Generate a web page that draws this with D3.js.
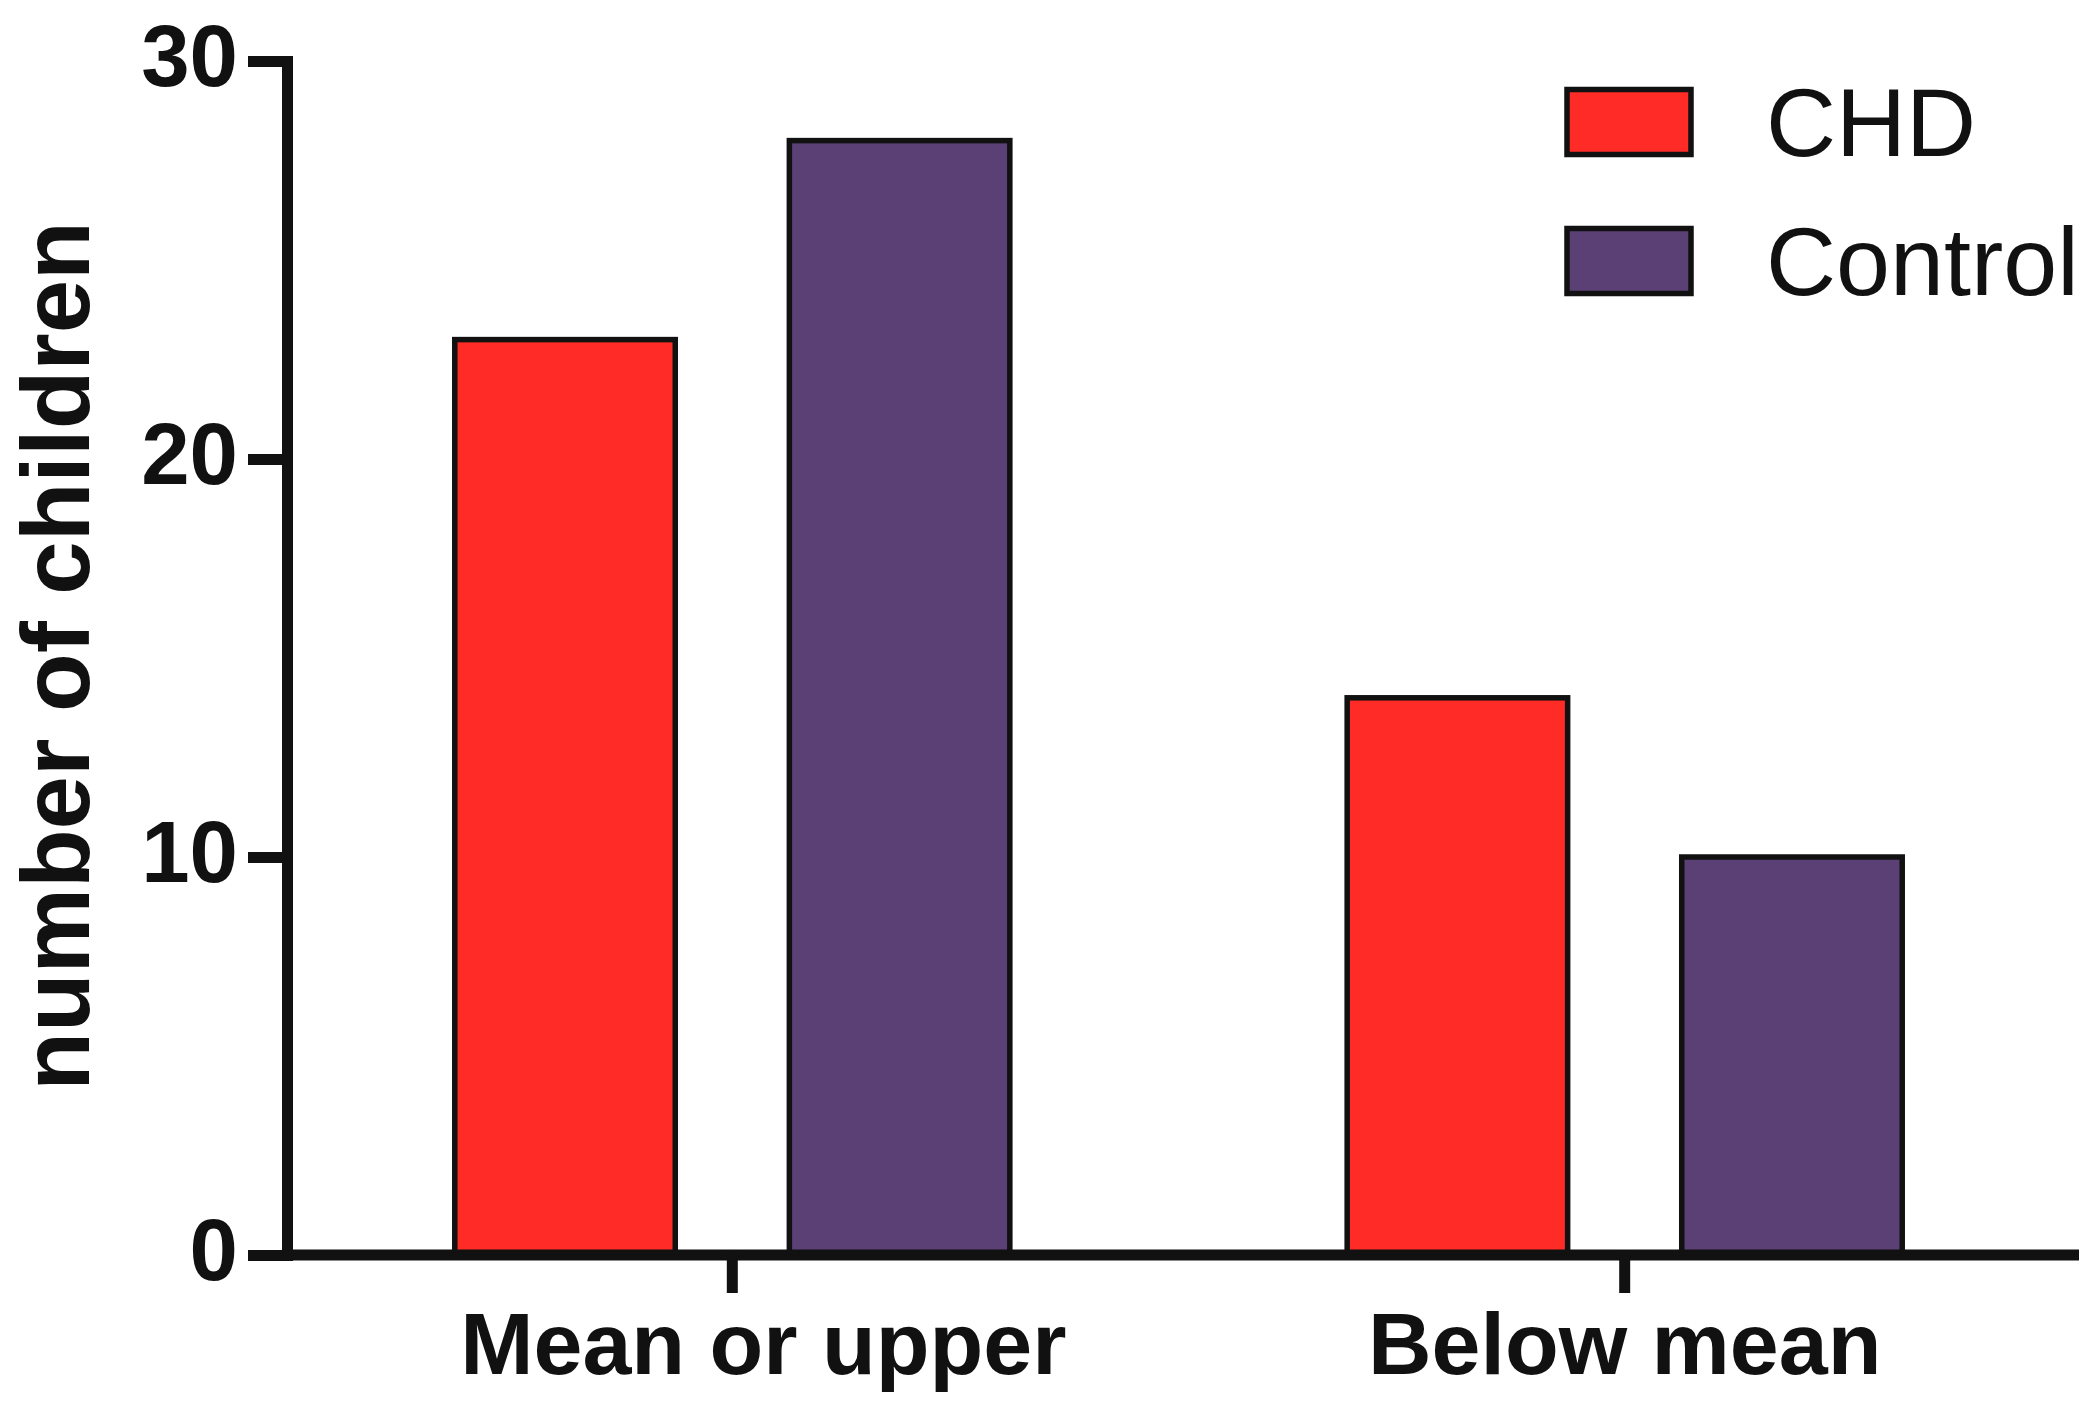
<!DOCTYPE html>
<html>
<head>
<meta charset="utf-8">
<script src="https://cdn.jsdelivr.net/npm/d3@7/dist/d3.min.js"></script>
<style>
  html, body { margin: 0; padding: 0; background: #ffffff; }
  svg { display: block; }
</style>
</head>
<body>
<svg id="chart" width="2092" height="1408"></svg>
<script>
// ---- data ----
const categories = ["Mean or upper", "Below mean"];
const seriesNames = ["CHD", "Control"];
const chdValues = [23, 14];
const controlValues = [28, 10];
const yTicks = [0, 10, 20, 30];
const yTitle = "number of children";
const seriesColors = ["#FF2B27", "#5B4076"];

// ---- layout ----
const W = 2092, H = 1408;
const svg = d3.select("#chart");
svg.append("rect").attr("width", W).attr("height", H).attr("fill", "#ffffff");

const axisX = 287;       // y-axis position
const baseY = 1255;      // y of value 0
const topY = 61;         // y of value 30
const ink = "#111111";
const axisW = 11;
const barStroke = 5.5;
const FONT = "'Liberation Sans', Arial, Helvetica, sans-serif";

const y = d3.scaleLinear().domain([0, 30]).range([baseY, topY]);

const x0 = d3.scaleBand().domain(categories)
  .range([287, 2070]).paddingInner(0.378).paddingOuter(0.188);
const x1 = d3.scaleBand().domain(seriesNames)
  .range([0, x0.bandwidth()]).paddingInner(0.341).paddingOuter(0);

const rows = categories.map((c, i) => ({
  cat: c,
  vals: [
    { s: seriesNames[0], v: chdValues[i], color: seriesColors[0] },
    { s: seriesNames[1], v: controlValues[i], color: seriesColors[1] }
  ]
}));

// ---- bars ----
const g = svg.append("g");
g.selectAll("g.grp").data(rows).join("g")
  .attr("class", "grp")
  .attr("transform", d => `translate(${x0(d.cat)},0)`)
  .selectAll("rect").data(d => d.vals).join("rect")
  .attr("x", d => x1(d.s))
  .attr("width", x1.bandwidth())
  .attr("y", d => y(d.v))
  .attr("height", d => y(0) - y(d.v))
  .attr("fill", d => d.color)
  .attr("stroke", ink)
  .attr("stroke-width", barStroke);

// ---- y axis ----
const yAxis = d3.axisLeft(y).tickValues(yTicks).tickFormat(d3.format("d"))
  .tickSize(39).tickSizeOuter(0).tickPadding(10);
const yg = svg.append("g").attr("transform", `translate(${axisX},0)`).call(yAxis);
yg.select(".domain").attr("stroke", ink).attr("stroke-width", axisW).attr("stroke-linecap", "square");
yg.selectAll(".tick line").attr("stroke", ink).attr("stroke-width", axisW);
yg.selectAll(".tick text")
  .attr("fill", ink)
  .attr("dy", "0.28em")
  .style("font-family", FONT)
  .style("font-weight", "bold")
  .style("font-size", "87px");

// ---- x axis ----
svg.append("line")
  .attr("x1", axisX).attr("x2", 2079)
  .attr("y1", baseY).attr("y2", baseY)
  .attr("stroke", ink).attr("stroke-width", axisW);

const xAxis = d3.axisBottom(x0).tickSize(38).tickSizeOuter(0).tickPadding(19);
const xg = svg.append("g").attr("transform", `translate(0,${baseY})`).call(xAxis);
xg.select(".domain").remove();
xg.selectAll(".tick line").attr("stroke", ink).attr("stroke-width", axisW);
xg.selectAll(".tick text")
  .attr("fill", ink)
  .attr("dx", (d, i) => i === 0 ? 31 : 0)
  .style("font-family", FONT)
  .style("font-weight", "bold")
  .style("font-size", "88px");

// ---- y title ----
svg.append("text")
  .attr("transform", "translate(89,656) rotate(-90)")
  .attr("text-anchor", "middle")
  .attr("fill", ink)
  .style("font-family", FONT)
  .style("font-weight", "bold")
  .style("font-size", "96px")
  .text(yTitle);

// ---- legend ----
const legend = svg.append("g");
const legY = d3.scalePoint().domain(seriesNames).range([122, 261]);
const li = legend.selectAll("g").data(seriesNames).join("g")
  .attr("transform", d => `translate(0,${legY(d)})`);
li.append("rect")
  .attr("x", 1567).attr("y", -32.5)
  .attr("width", 124).attr("height", 65)
  .attr("fill", (d, i) => seriesColors[i])
  .attr("stroke", ink).attr("stroke-width", barStroke);
li.append("text")
  .attr("x", 1766).attr("y", 34)
  .attr("fill", ink)
  .style("font-family", FONT)
  .style("font-size", "97px")
  .text(d => d);
</script>
</body>
</html>
